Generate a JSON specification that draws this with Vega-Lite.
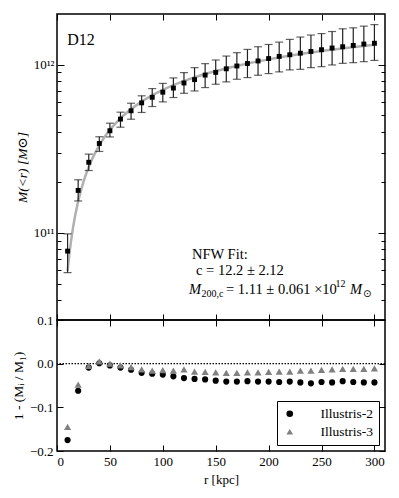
{
  "$schema": "https://vega.github.io/schema/vega-lite/v6.json",
  "background": "white",
  "padding": {"left": 10, "top": 12, "right": 13, "bottom": 5},
  "datasets": {
    "mass": [
      {"r": 10, "M": 7.8e10, "lo": 5.82e10, "hi": 9.87e10},
      {"r": 20, "M": 1.79e11, "lo": 1.55e11, "hi": 2.07e11},
      {"r": 30, "M": 2.63e11, "lo": 2.35e11, "hi": 2.94e11},
      {"r": 40, "M": 3.4e11, "lo": 3.05e11, "hi": 3.73e11},
      {"r": 50, "M": 4.05e11, "lo": 3.72e11, "hi": 4.49e11},
      {"r": 60, "M": 4.75e11, "lo": 4.25e11, "hi": 5.22e11},
      {"r": 70, "M": 5.32e11, "lo": 4.74e11, "hi": 5.9e11},
      {"r": 80, "M": 5.93e11, "lo": 5.2e11, "hi": 6.53e11},
      {"r": 90, "M": 6.4e11, "lo": 5.64e11, "hi": 7.21e11},
      {"r": 100, "M": 6.86e11, "lo": 6.01e11, "hi": 7.74e11},
      {"r": 110, "M": 7.26e11, "lo": 6.38e11, "hi": 8.34e11},
      {"r": 120, "M": 7.78e11, "lo": 6.76e11, "hi": 8.97e11},
      {"r": 130, "M": 8.15e11, "lo": 6.98e11, "hi": 9.6e11},
      {"r": 140, "M": 8.67e11, "lo": 7.31e11, "hi": 1.014e12},
      {"r": 150, "M": 9.0e11, "lo": 7.65e11, "hi": 1.066e12},
      {"r": 160, "M": 9.45e11, "lo": 7.9e11, "hi": 1.125e12},
      {"r": 170, "M": 9.82e11, "lo": 8.19e11, "hi": 1.178e12},
      {"r": 180, "M": 1.016e12, "lo": 8.38e11, "hi": 1.232e12},
      {"r": 190, "M": 1.052e12, "lo": 8.65e11, "hi": 1.278e12},
      {"r": 200, "M": 1.087e12, "lo": 8.85e11, "hi": 1.318e12},
      {"r": 210, "M": 1.12e12, "lo": 9.06e11, "hi": 1.361e12},
      {"r": 220, "M": 1.145e12, "lo": 9.31e11, "hi": 1.413e12},
      {"r": 230, "M": 1.17e12, "lo": 9.38e11, "hi": 1.459e12},
      {"r": 240, "M": 1.198e12, "lo": 9.6e11, "hi": 1.5e12},
      {"r": 250, "M": 1.227e12, "lo": 9.73e11, "hi": 1.53e12},
      {"r": 260, "M": 1.256e12, "lo": 9.96e11, "hi": 1.574e12},
      {"r": 270, "M": 1.278e12, "lo": 1.018e12, "hi": 1.633e12},
      {"r": 280, "M": 1.301e12, "lo": 1.028e12, "hi": 1.655e12},
      {"r": 290, "M": 1.326e12, "lo": 1.042e12, "hi": 1.694e12},
      {"r": 300, "M": 1.34e12, "lo": 1.06e12, "hi": 1.73e12}
    ],
    "fit": [
      {"r": 10, "M": 5.96e10},
      {"r": 12, "M": 7.78e10},
      {"r": 15, "M": 1.062e11},
      {"r": 20, "M": 1.542e11},
      {"r": 25, "M": 2.014e11},
      {"r": 30, "M": 2.471e11},
      {"r": 40, "M": 3.324e11},
      {"r": 50, "M": 4.099e11},
      {"r": 60, "M": 4.8e11},
      {"r": 80, "M": 6.03e11},
      {"r": 100, "M": 7.08e11},
      {"r": 125, "M": 8.2e11},
      {"r": 150, "M": 9.16e11},
      {"r": 175, "M": 1.0e12},
      {"r": 200, "M": 1.075e12},
      {"r": 250, "M": 1.204e12},
      {"r": 275, "M": 1.26e12},
      {"r": 300, "M": 1.312e12}
    ],
    "resid": [
      {"r": 10, "series": "Illustris-2", "d": -0.175},
      {"r": 20, "series": "Illustris-2", "d": -0.062},
      {"r": 30, "series": "Illustris-2", "d": -0.009},
      {"r": 40, "series": "Illustris-2", "d": 0.001},
      {"r": 50, "series": "Illustris-2", "d": -0.004},
      {"r": 60, "series": "Illustris-2", "d": -0.009},
      {"r": 70, "series": "Illustris-2", "d": -0.014},
      {"r": 80, "series": "Illustris-2", "d": -0.021},
      {"r": 90, "series": "Illustris-2", "d": -0.023},
      {"r": 100, "series": "Illustris-2", "d": -0.025},
      {"r": 110, "series": "Illustris-2", "d": -0.029},
      {"r": 120, "series": "Illustris-2", "d": -0.033},
      {"r": 130, "series": "Illustris-2", "d": -0.035},
      {"r": 140, "series": "Illustris-2", "d": -0.036},
      {"r": 150, "series": "Illustris-2", "d": -0.039},
      {"r": 160, "series": "Illustris-2", "d": -0.041},
      {"r": 170, "series": "Illustris-2", "d": -0.041},
      {"r": 180, "series": "Illustris-2", "d": -0.040},
      {"r": 190, "series": "Illustris-2", "d": -0.041},
      {"r": 200, "series": "Illustris-2", "d": -0.041},
      {"r": 210, "series": "Illustris-2", "d": -0.042},
      {"r": 220, "series": "Illustris-2", "d": -0.041},
      {"r": 230, "series": "Illustris-2", "d": -0.043},
      {"r": 240, "series": "Illustris-2", "d": -0.045},
      {"r": 250, "series": "Illustris-2", "d": -0.042},
      {"r": 260, "series": "Illustris-2", "d": -0.043},
      {"r": 270, "series": "Illustris-2", "d": -0.040},
      {"r": 280, "series": "Illustris-2", "d": -0.042},
      {"r": 290, "series": "Illustris-2", "d": -0.043},
      {"r": 300, "series": "Illustris-2", "d": -0.043},
      {"r": 10, "series": "Illustris-3", "d": -0.145},
      {"r": 20, "series": "Illustris-3", "d": -0.048},
      {"r": 30, "series": "Illustris-3", "d": -0.005},
      {"r": 40, "series": "Illustris-3", "d": 0.005},
      {"r": 50, "series": "Illustris-3", "d": 0.0},
      {"r": 60, "series": "Illustris-3", "d": -0.004},
      {"r": 70, "series": "Illustris-3", "d": -0.008},
      {"r": 80, "series": "Illustris-3", "d": -0.013},
      {"r": 90, "series": "Illustris-3", "d": -0.016},
      {"r": 100, "series": "Illustris-3", "d": -0.015},
      {"r": 110, "series": "Illustris-3", "d": -0.016},
      {"r": 120, "series": "Illustris-3", "d": -0.013},
      {"r": 130, "series": "Illustris-3", "d": -0.018},
      {"r": 140, "series": "Illustris-3", "d": -0.019},
      {"r": 150, "series": "Illustris-3", "d": -0.020},
      {"r": 160, "series": "Illustris-3", "d": -0.021},
      {"r": 170, "series": "Illustris-3", "d": -0.021},
      {"r": 180, "series": "Illustris-3", "d": -0.020},
      {"r": 190, "series": "Illustris-3", "d": -0.020},
      {"r": 200, "series": "Illustris-3", "d": -0.019},
      {"r": 210, "series": "Illustris-3", "d": -0.018},
      {"r": 220, "series": "Illustris-3", "d": -0.018},
      {"r": 230, "series": "Illustris-3", "d": -0.016},
      {"r": 240, "series": "Illustris-3", "d": -0.016},
      {"r": 250, "series": "Illustris-3", "d": -0.014},
      {"r": 260, "series": "Illustris-3", "d": -0.013},
      {"r": 270, "series": "Illustris-3", "d": -0.012},
      {"r": 280, "series": "Illustris-3", "d": -0.012},
      {"r": 290, "series": "Illustris-3", "d": -0.012},
      {"r": 300, "series": "Illustris-3", "d": -0.011}
    ]
  },
  "vconcat": [
    {
      "width": 328,
      "height": 306,
      "layer": [
        {
          "data": {"name": "fit"},
          "mark": {"type": "line", "color": "#b0b0b0", "strokeWidth": 2.5, "interpolate": "monotone"},
          "encoding": {
            "x": {"field": "r", "type": "quantitative", "scale": {"domain": [0, 310], "nice": false, "zero": false},
                  "axis": {"orient": "bottom", "values": [0, 50, 100, 150, 200, 250, 300], "labels": false, "title": null, "tickSize": -6}},
            "y": {"field": "M", "type": "quantitative", "scale": {"type": "log", "domain": [3.04e10, 2.0e12], "nice": false},
                  "axis": {"orient": "left", "values": [1e11, 1e12], "tickSize": -7, "labelPadding": 10,
                           "labelExpr": "datum.value == 1e12 ? '10¹²' : '10¹¹'",
                           "title": "M(<r) [M⊙]", "titleFontStyle": "italic", "titleFontSize": 13.5, "titlePadding": 4}}
          }
        },
        {
          "data": {"name": "mass"},
          "mark": {"type": "rule", "color": "#222222", "strokeWidth": 1.2},
          "encoding": {
            "x": {"field": "r", "type": "quantitative", "scale": {"domain": [0, 310], "nice": false, "zero": false},
                  "axis": {"orient": "top", "values": [0, 50, 100, 150, 200, 250, 300], "labels": false, "title": null, "tickSize": -6}},
            "y": {"field": "lo", "type": "quantitative", "scale": {"type": "log", "domain": [3.04e10, 2.0e12], "nice": false},
                  "axis": {"orient": "right", "values": [1e11, 1e12], "labels": false, "title": null, "tickSize": -7}},
            "y2": {"field": "hi"}
          }
        },
        {
          "data": {"name": "mass"},
          "mark": {"type": "tick", "orient": "horizontal", "size": 8, "thickness": 1.2, "color": "#222222"},
          "encoding": {
            "x": {"field": "r", "type": "quantitative", "scale": {"domain": [0, 310], "nice": false, "zero": false}, "axis": null},
            "y": {"field": "lo", "type": "quantitative", "scale": {"type": "log", "domain": [3.04e10, 2.0e12], "nice": false},
                  "axis": {"orient": "left", "values": [4e10, 5e10, 6e10, 7e10, 8e10, 9e10, 2e11, 3e11, 4e11, 5e11, 6e11, 7e11, 8e11, 9e11], "labels": false, "title": null, "tickSize": -4}}
          }
        },
        {
          "data": {"name": "mass"},
          "mark": {"type": "tick", "orient": "horizontal", "size": 8, "thickness": 1.2, "color": "#222222"},
          "encoding": {
            "x": {"field": "r", "type": "quantitative", "scale": {"domain": [0, 310], "nice": false, "zero": false}, "axis": null},
            "y": {"field": "hi", "type": "quantitative", "scale": {"type": "log", "domain": [3.04e10, 2.0e12], "nice": false},
                  "axis": {"orient": "right", "values": [4e10, 5e10, 6e10, 7e10, 8e10, 9e10, 2e11, 3e11, 4e11, 5e11, 6e11, 7e11, 8e11, 9e11], "labels": false, "title": null, "tickSize": -4}}
          }
        },
        {
          "data": {"name": "mass"},
          "mark": {"type": "point", "shape": "square", "filled": true, "size": 24, "color": "black", "opacity": 1},
          "encoding": {
            "x": {"field": "r", "type": "quantitative", "scale": {"domain": [0, 310], "nice": false, "zero": false}, "axis": null},
            "y": {"field": "M", "type": "quantitative", "scale": {"type": "log", "domain": [3.04e10, 2.0e12], "nice": false}, "axis": null}
          }
        },
        {
          "data": {"values": [{}]},
          "layer": [
            {"mark": {"type": "text", "text": "D12", "fontSize": 16, "align": "left", "baseline": "alphabetic", "color": "black"},
             "encoding": {"x": {"datum": 9.7, "type": "quantitative", "axis": null}, "y": {"datum": 1.3e12, "type": "quantitative", "axis": null}}},
            {"mark": {"type": "text", "text": "NFW Fit:", "fontSize": 14.5, "align": "left", "baseline": "alphabetic", "color": "black"},
             "encoding": {"x": {"datum": 127.6, "type": "quantitative", "axis": null}, "y": {"datum": 7.04e10, "type": "quantitative", "axis": null}}},
            {"mark": {"type": "text", "text": "c = 12.2 ± 2.12", "fontSize": 14.5, "align": "left", "baseline": "alphabetic", "color": "black"},
             "encoding": {"x": {"datum": 131.4, "type": "quantitative", "axis": null}, "y": {"datum": 5.61e10, "type": "quantitative", "axis": null}}},
            {"mark": {"type": "text", "text": "M", "fontStyle": "italic", "fontSize": 14.5, "align": "left", "baseline": "alphabetic", "color": "black"},
             "encoding": {"x": {"datum": 124.8, "type": "quantitative", "axis": null}, "y": {"datum": 4.35e10, "type": "quantitative", "axis": null}}},
            {"mark": {"type": "text", "text": "200,c", "fontSize": 10, "align": "left", "baseline": "alphabetic", "color": "black", "dx": 12.5, "dy": 3},
             "encoding": {"x": {"datum": 124.8, "type": "quantitative", "axis": null}, "y": {"datum": 4.35e10, "type": "quantitative", "axis": null}}},
            {"mark": {"type": "text", "text": "= 1.11 ± 0.061 ×10", "fontSize": 14.5, "align": "left", "baseline": "alphabetic", "color": "black", "dx": 37},
             "encoding": {"x": {"datum": 124.8, "type": "quantitative", "axis": null}, "y": {"datum": 4.35e10, "type": "quantitative", "axis": null}}},
            {"mark": {"type": "text", "text": "12", "fontSize": 10, "align": "left", "baseline": "alphabetic", "color": "black", "dx": 146.5, "dy": -6.5},
             "encoding": {"x": {"datum": 124.8, "type": "quantitative", "axis": null}, "y": {"datum": 4.35e10, "type": "quantitative", "axis": null}}},
            {"mark": {"type": "text", "text": "M", "fontStyle": "italic", "fontSize": 14.5, "align": "left", "baseline": "alphabetic", "color": "black", "dx": 161},
             "encoding": {"x": {"datum": 124.8, "type": "quantitative", "axis": null}, "y": {"datum": 4.35e10, "type": "quantitative", "axis": null}}},
            {"mark": {"type": "text", "text": "⊙", "font": "DejaVu Sans", "fontSize": 10, "align": "left", "baseline": "alphabetic", "color": "black", "dx": 174, "dy": 3},
             "encoding": {"x": {"datum": 124.8, "type": "quantitative", "axis": null}, "y": {"datum": 4.35e10, "type": "quantitative", "axis": null}}}
          ]
        }
      ],
      "resolve": {"axis": {"x": "independent", "y": "independent"}}
    },
    {
      "width": 328,
      "height": 131,
      "data": {"name": "resid"},
      "layer": [
        {
          "data": {"values": [{}]},
          "mark": {"type": "rule", "color": "black", "strokeWidth": 1.2, "strokeDash": [1.5, 1.5]},
          "encoding": {"y": {"datum": 0, "type": "quantitative", "scale": {"domain": [-0.2, 0.1], "nice": false, "zero": false}, "axis": null}}
        },
        {
          "transform": [{"filter": "datum.series == 'Illustris-2'"}],
          "mark": {"type": "point", "filled": true, "size": 38, "opacity": 1},
          "encoding": {
            "x": {"field": "r", "type": "quantitative", "scale": {"domain": [0, 310], "nice": false, "zero": false},
                  "axis": {"orient": "bottom", "values": [0, 50, 100, 150, 200, 250, 300], "tickSize": -6, "labelPadding": 10, "title": "r [kpc]", "titlePadding": 5}},
            "y": {"field": "d", "type": "quantitative", "scale": {"domain": [-0.2, 0.1], "nice": false, "zero": false},
                  "axis": {"orient": "left", "values": [-0.2, -0.1, 0, 0.1], "format": ".1f", "tickSize": -6, "labelPadding": 10, "title": "1 - (Mᵢ / M₁)", "titleFontSize": 13.5, "titlePadding": 4}},
            "color": {"field": "series", "type": "nominal", "scale": {"domain": ["Illustris-2", "Illustris-3"], "range": ["black", "#808080"]}, "legend": {"title": null}},
            "shape": {"field": "series", "type": "nominal", "scale": {"domain": ["Illustris-2", "Illustris-3"], "range": ["circle", "triangle-up"]}, "legend": {"title": null}}
          }
        },
        {
          "transform": [{"filter": "datum.series == 'Illustris-3'"}],
          "mark": {"type": "point", "filled": true, "size": 52, "opacity": 1},
          "encoding": {
            "x": {"field": "r", "type": "quantitative", "scale": {"domain": [0, 310], "nice": false, "zero": false},
                  "axis": {"orient": "top", "values": [0, 50, 100, 150, 200, 250, 300], "labels": false, "title": null, "tickSize": -6}},
            "y": {"field": "d", "type": "quantitative", "scale": {"domain": [-0.2, 0.1], "nice": false, "zero": false},
                  "axis": {"orient": "right", "values": [-0.2, -0.1, 0, 0.1], "labels": false, "title": null, "tickSize": -6}},
            "color": {"field": "series", "type": "nominal", "scale": {"domain": ["Illustris-2", "Illustris-3"], "range": ["black", "#808080"]}, "legend": {"title": null}},
            "shape": {"field": "series", "type": "nominal", "scale": {"domain": ["Illustris-2", "Illustris-3"], "range": ["circle", "triangle-up"]}, "legend": {"title": null}}
          }
        }
      ],
      "resolve": {"axis": {"x": "independent", "y": "independent"}}
    }
  ],
  "spacing": 0,
  "bounds": "flush",
  "resolve": {"scale": {"color": "independent", "shape": "independent"}},
  "config": {
    "view": {"stroke": "black", "strokeWidth": 1.5},
    "font": "Liberation Serif, DejaVu Serif, serif",
    "text": {"font": "Liberation Serif, DejaVu Serif, serif"},
    "axis": {
      "domain": false, "grid": false, "tickColor": "black", "tickWidth": 1,
      "labelFont": "Liberation Serif, DejaVu Serif, serif", "labelFontSize": 13, "labelColor": "black",
      "titleFont": "Liberation Serif, DejaVu Serif, serif", "titleFontSize": 13, "titleFontWeight": "normal", "titleColor": "black"
    },
    "legend": {
      "orient": "bottom-right", "offset": 6, "strokeColor": "black", "fillColor": "white", "padding": 6,
      "labelFont": "Liberation Serif, DejaVu Serif, serif", "labelFontSize": 13.5, "labelColor": "black", "symbolSize": 44, "rowPadding": 3,
      "labelOffset": 24, "cornerRadius": 0, "symbolStrokeWidth": 0
    }
  }
}
